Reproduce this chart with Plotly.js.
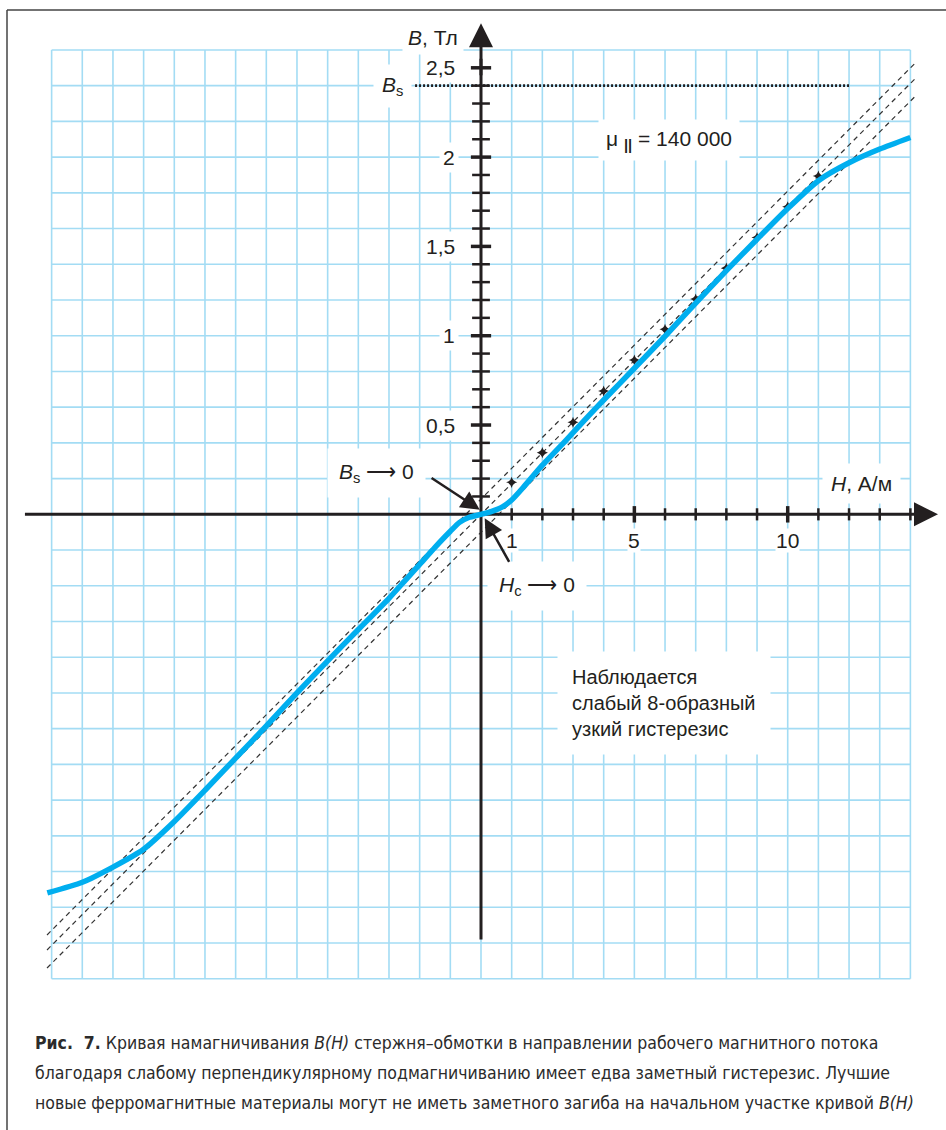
<!DOCTYPE html>
<html>
<head>
<meta charset="utf-8">
<script src="https://cdn.plot.ly/plotly-3.0.1.min.js"></script>
<style>
  html, body { margin: 0; padding: 0; background: #ffffff; }
  #chart { width: 946px; height: 1130px; }
</style>
</head>
<body>
<div id="chart"></div>
<script>
// ---------- DATA ----------
// Magnetisation curve B(H): H in A/m, B in T
const curveH = [-14.14, -13, -12, -11, -10, -9, -8, -7, -6, -5, -4, -3, -2.5, -2, -1.5, -1.0, -0.7, -0.4, 0,
                0.35, 0.7, 1.0, 1.4, 2, 2.8, 3.5, 4, 5, 6, 7, 8, 9, 10, 11, 12, 13, 14];
const curveB = [-2.12, -2.06, -1.975, -1.875, -1.72, -1.545, -1.365, -1.185, -1.0, -0.82, -0.645, -0.47, -0.375, -0.28, -0.185, -0.095, -0.045, -0.018, 0,
                0.017, 0.042, 0.08, 0.155, 0.275, 0.42, 0.55, 0.64, 0.818, 0.997, 1.183, 1.365, 1.54, 1.712, 1.868, 1.968, 2.045, 2.11];

// Points of the linear law mu = 140 000 (middle dashed line)
const dotH = [1, 2, 3, 4, 5, 6, 7, 8, 9, 10, 11];
const dotB = [0.179, 0.345, 0.515, 0.69, 0.864, 1.036, 1.205, 1.378, 1.55, 1.722, 1.894];

// Three dashed straight lines (end points)
const dashH = [-14.15, 14.2];
const dashUpperB = [-2.355, 2.534];
const dashMiddleB = [-2.439, 2.447];
const dashLowerB = [-2.54, 2.348];

// Saturation level Bs (dotted)
const bsLineH = [-2.15, 12];
const bsLineB = [2.4, 2.4];

// Axis ticks and labels
const xTicks = [1, 2, 3, 4, 5, 6, 7, 8, 9, 10, 11, 12, 13, 14];
const xMajorTicks = [5, 10];
const xTickLabelVals = [1, 5, 10];
const xTickLabels = ['1', '5', '10'];
const yTicks = [0.1, 0.2, 0.3, 0.4, 0.6, 0.7, 0.8, 0.9, 1.1, 1.2, 1.3, 1.4, 1.6, 1.7, 1.8, 1.9, 2.1, 2.2, 2.3, 2.4];
const yMajorTicks = [0.5, 1, 1.5, 2, 2.5];
const yTickLabels = ['0,5', '1', '1,5', '2', '2,5'];

// Grid (graph paper) limits and steps
const gridHmin = -14, gridHmax = 14, gridHstep = 1;
const gridBmin = -2.6, gridBmax = 2.6, gridBstep = 0.2;

// ---------- STYLE ----------
const FONT = 'Liberation Sans, Arial, Helvetica, sans-serif';
const CAPTION_FONT = '"DejaVu Sans Condensed", "Liberation Sans Narrow", Roboto, "Liberation Sans", sans-serif';
const INK = '#231f20';
const GRID = '#a3dcf4';
const CYAN = '#00aeef';

// ---------- BUILD ----------
function segs(vals, a0, a1, vertical) {
  const xs = [], ys = [];
  vals.forEach(v => {
    if (vertical) { xs.push(v, v, null); ys.push(a0, a1, null); }
    else { xs.push(a0, a1, null); ys.push(v, v, null); }
  });
  return {xs, ys};
}
const gridHs = [], gridBs = [];
for (let h = gridHmin; h <= gridHmax + 1e-9; h += gridHstep) gridHs.push(Math.round(h * 100) / 100);
for (let b = gridBmin; b <= gridBmax + 1e-9; b += gridBstep) gridBs.push(Math.round(b * 100) / 100);
const gV = segs(gridHs, gridBmin, gridBmax, true);
const gH = segs(gridBs, gridHmin, gridHmax, false);

const xAxisSpan = [-14.87, 14.6];
const yAxisSpan = [-2.38, 2.55];
const xTickHalf = 0.034, xMajorHalf = 0.046;   // in T
const yTickHalf = 0.29, yMajorHalf = 0.33;     // in A/m

const xt = segs(xTicks.filter(t => !xMajorTicks.includes(t)), -xTickHalf, xTickHalf, true);
const xtm = segs(xMajorTicks, -xMajorHalf, xMajorHalf, true);
const yt = segs(yTicks, -yTickHalf, yTickHalf, false);
const ytm = segs(yMajorTicks, -yMajorHalf, yMajorHalf, false);

const traces = [
  {x: gV.xs.concat(gH.xs), y: gV.ys.concat(gH.ys), mode: 'lines', line: {color: GRID, width: 1.6}, hoverinfo: 'skip'},
  {x: dashH, y: dashUpperB, mode: 'lines', line: {color: '#333', width: 1.2, dash: '5px,4px'}},
  {x: dashH, y: dashMiddleB, mode: 'lines', line: {color: '#333', width: 1.2, dash: '5px,4px'}},
  {x: dashH, y: dashLowerB, mode: 'lines', line: {color: '#333', width: 1.2, dash: '5px,4px'}},
  {x: bsLineH, y: bsLineB, mode: 'lines', line: {color: INK, width: 2.6, dash: '2px,2px'}},
  {x: [xAxisSpan[0], xAxisSpan[1]], y: [0, 0], mode: 'lines', line: {color: INK, width: 3}},
  {x: [0, 0], y: [yAxisSpan[0], yAxisSpan[1]], mode: 'lines', line: {color: INK, width: 3}},
  {x: xt.xs, y: xt.ys, mode: 'lines', line: {color: INK, width: 2.5}},
  {x: xtm.xs, y: xtm.ys, mode: 'lines', line: {color: INK, width: 3.5}},
  {x: yt.xs, y: yt.ys, mode: 'lines', line: {color: INK, width: 2.5}},
  {x: ytm.xs, y: ytm.ys, mode: 'lines', line: {color: INK, width: 3.5}},
  {x: dotH, y: dotB, mode: 'markers', marker: {symbol: 'star-diamond', size: 8, color: INK}},
  {x: curveH, y: curveB, mode: 'lines', line: {color: CYAN, width: 5.5, shape: 'spline', smoothing: 0.6}}
];

const annotations = [];
function lab(text, x, y, opts) {
  annotations.push(Object.assign({
    text: text, x: x, y: y, xref: 'x', yref: 'y', showarrow: false,
    font: {family: FONT, size: 21, color: INK}, xanchor: 'center', yanchor: 'middle'
  }, opts || {}));
}
// axis arrowheads
annotations.push({x: 14.9, y: 0, ax: 14.2, ay: 0, xref: 'x', yref: 'y', axref: 'x', ayref: 'y', text: '',
  showarrow: true, arrowhead: 2, arrowsize: 1.6, arrowwidth: 3, arrowcolor: INK, standoff: 0});
annotations.push({x: 0, y: 2.75, ax: 0, ay: 2.45, xref: 'x', yref: 'y', axref: 'x', ayref: 'y', text: '',
  showarrow: true, arrowhead: 2, arrowsize: 1.6, arrowwidth: 3, arrowcolor: INK, standoff: 0});
// axis titles
lab('<i>B</i>, Тл', -1.56, 2.667, {bgcolor: 'white', borderpad: 5});
lab('<i>H</i>, А/м', 12.42, 0.175, {bgcolor: 'white', borderpad: 8});
// tick labels
yMajorTicks.forEach((v, i) => lab(yTickLabels[i], -0.72, v, {xanchor: 'right', bgcolor: 'white', borderpad: 3}));
xTickLabelVals.forEach((v, i) => lab(xTickLabels[i], v, -0.145, {bgcolor: 'white', borderpad: 0}));
// Bs label
lab('<i>B</i><sub>s</sub>', -2.87, 2.4, {bgcolor: 'white', borderpad: 8});
// mu label
lab('μ <sub><b>||</b></sub> = 140 000', 6.13, 2.095, {bgcolor: 'white', borderpad: 7});
// Bs -> 0
lab('<i>B</i><sub>s</sub> ⟶ 0', -3.41, 0.231, {bgcolor: 'white', borderpad: 11});
annotations.push({x: -0.04, y: 0.026, ax: -1.66, ay: 0.209, xref: 'x', yref: 'y', axref: 'x', ayref: 'y', text: '',
  showarrow: true, arrowhead: 2, arrowsize: 1.5, arrowwidth: 2.5, arrowcolor: INK, standoff: 0});
// Hc -> 0
lab('<i>H</i><sub>c</sub> ⟶ 0', 1.84, -0.40, {bgcolor: 'white', borderpad: 11});
annotations.push({x: 0.12, y: -0.022, ax: 0.945, ay: -0.274, xref: 'x', yref: 'y', axref: 'x', ayref: 'y', text: '',
  showarrow: true, arrowhead: 2, arrowsize: 1.5, arrowwidth: 2.5, arrowcolor: INK, standoff: 0});
// Note
lab('Наблюдается<br>слабый 8-образный<br>узкий гистерезис', 2.48, -1.056,
    {xanchor: 'left', align: 'left', bgcolor: 'white', borderpad: 14, font: {family: FONT, size: 20, color: INK}});

// Caption
const captionLines = [
  '<b>Рис.  7.</b> Кривая намагничивания <i>B(H)</i> стержня–обмотки в направлении рабочего магнитного потока',
  'благодаря слабому перпендикулярному подмагничиванию имеет едва заметный гистерезис. Лучшие',
  'новые ферромагнитные материалы могут не иметь заметного загиба на начальном участке кривой <i>B(H)</i>'
];
const captionY = [1043, 1073, 1103];
captionLines.forEach((t, i) => annotations.push({
  text: t, xref: 'paper', yref: 'paper', x: 33 / 946, y: 1 - captionY[i] / 1130,
  xanchor: 'left', yanchor: 'middle', align: 'left', showarrow: false,
  font: {family: CAPTION_FONT, size: 17.5, color: '#2b2b2b'}
}));

const layout = {
  width: 946, height: 1130,
  margin: {l: 0, r: 0, t: 0, b: 0, pad: 0},
  paper_bgcolor: 'white', plot_bgcolor: 'white',
  showlegend: false,
  xaxis: {range: [-15.683, 15.161], visible: false, fixedrange: true},
  yaxis: {range: [-3.447, 2.8796], visible: false, fixedrange: true},
  annotations: annotations,
  shapes: [
    {type: 'line', xref: 'paper', yref: 'paper', x0: 7 / 946, x1: 7 / 946, y0: 1 - 10 / 1130, y1: 0, line: {color: '#444', width: 1.5}},
    {type: 'line', xref: 'paper', yref: 'paper', x0: 7 / 946, x1: 1, y0: 1 - 10 / 1130, y1: 1 - 10 / 1130, line: {color: '#444', width: 1.5}}
  ]
};

Plotly.newPlot('chart', traces, layout, {staticPlot: true, displayModeBar: false});
</script>
</body>
</html>
